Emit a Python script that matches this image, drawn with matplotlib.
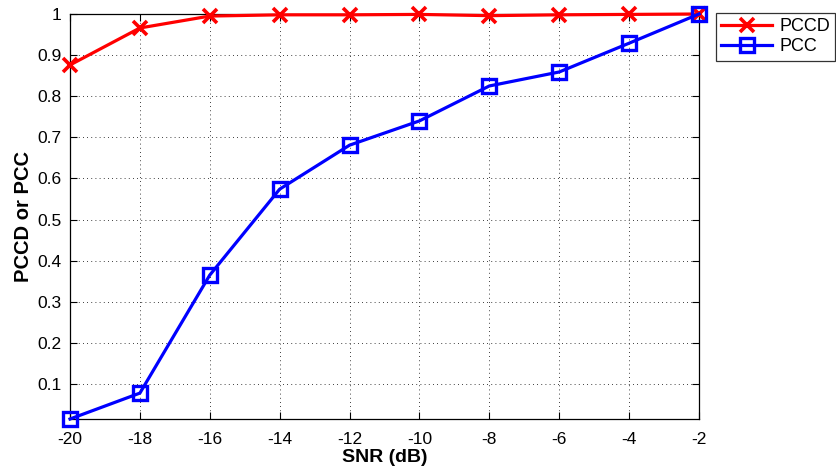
import matplotlib
matplotlib.use("Agg")
import matplotlib.pyplot as plt

plt.rcParams['font.family'] = ['Liberation Sans', 'DejaVu Sans']

snr_db = [-20, -18, -16, -14, -12, -10, -8, -6, -4, -2]
pccd = [0.876, 0.966, 0.995, 0.998, 0.998, 0.999, 0.996, 0.998, 0.999, 1.0]
pcc = [0.015, 0.078, 0.365, 0.574, 0.681, 0.740, 0.825, 0.859, 0.929, 1.0]
x_ticks = [-20, -18, -16, -14, -12, -10, -8, -6, -4, -2]
y_ticks = [0.1, 0.2, 0.3, 0.4, 0.5, 0.6, 0.7, 0.8, 0.9, 1.0]
y_tick_labels = ['0.1', '0.2', '0.3', '0.4', '0.5', '0.6', '0.7', '0.8', '0.9', '1']

fig = plt.figure(figsize=(8.36, 4.72), dpi=100)
ax = fig.add_axes([70 / 836, 1 - 419 / 472, 629 / 836, 405 / 472])

ax.plot(snr_db, pccd, color='#ff0000', lw=2.3, marker='x', ms=10, mew=2.6,
        label='PCCD', clip_on=False, zorder=3)
ax.plot(snr_db, pcc, color='#0000ff', lw=2.3, marker='s', ms=10, mew=2.4,
        mfc='none', label='PCC', clip_on=False, zorder=3)

ax.set_xlim(-20, -2)
ax.set_ylim(0.015, 1.0)
ax.set_xticks(x_ticks)
ax.set_xticklabels([str(t) for t in x_ticks])
ax.set_yticks(y_ticks)
ax.set_yticklabels(y_tick_labels)
ax.tick_params(axis='x', direction='in', length=5, width=0.8, labelsize=12.5,
               pad=9, top=True)
ax.tick_params(axis='y', direction='in', length=5, width=0.8, labelsize=12.5,
               pad=6, right=True)
ax.grid(True, color='black', linestyle=(0, (1, 4)), linewidth=0.6)
for s in ax.spines.values():
    s.set_linewidth(0.9)

ax.set_xlabel('SNR (dB)', fontsize=14, fontweight='bold', labelpad=2)
ax.set_ylabel('PCCD or PCC', fontsize=14.5, fontweight='bold', labelpad=3)

leg = ax.legend(loc='upper left', bbox_to_anchor=(716 / 836, 1 - 13 / 472),
                bbox_transform=fig.transFigure, fontsize=13, frameon=True,
                fancybox=False, edgecolor='black', borderaxespad=0,
                handlelength=2.8, borderpad=0.3, labelspacing=0.15,
                handletextpad=0.4)
leg.get_frame().set_linewidth(0.9)

fig.savefig('out.png', dpi=100)
